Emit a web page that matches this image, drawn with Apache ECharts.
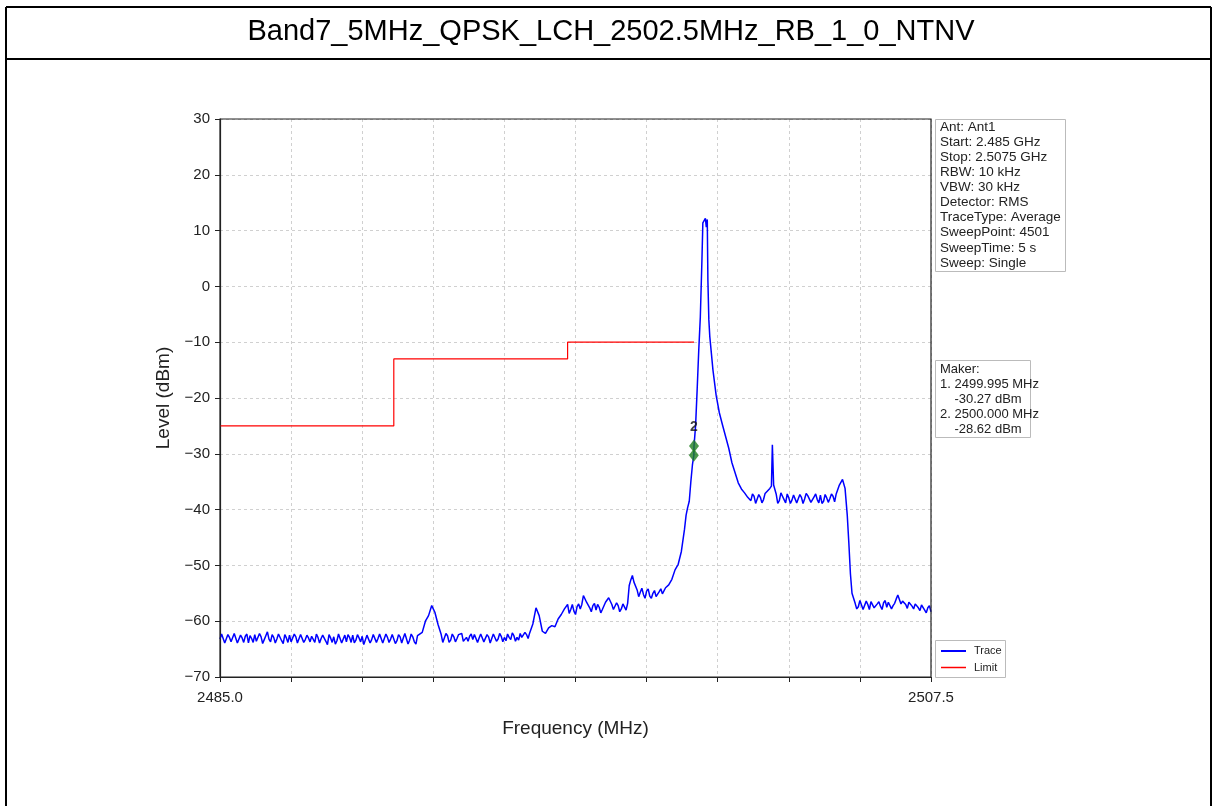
<!DOCTYPE html>
<html>
<head>
<meta charset="utf-8">
<script src="https://cdn.jsdelivr.net/npm/echarts@6/dist/echarts.min.js"></script>
<style>html,body{margin:0;padding:0;background:#fff;}#c{width:1215px;height:806px;}</style>
</head>
<body>
<div id="c"></div>
<script>
var chartTitle = 'Band7_5MHz_QPSK_LCH_2502.5MHz_RB_1_0_NTNV';
var freqStart = 2485.0, freqStop = 2507.5, freqTickStep = 2.25;
var levelMin = -70, levelMax = 30, levelStep = 10;

// Trace [MHz, dBm]
var traceLowBand = [
[2485.0,-63.2],[2485.1,-62.6],[2485.2,-63.8],[2485.3,-62.9],[2485.4,-63.4],[2485.5,-62.3],[2485.6,-63.6],[2485.7,-63.0],[2485.8,-62.7],[2485.9,-63.9],
[2486.0,-63.1],[2486.1,-62.4],[2486.2,-63.5],[2486.3,-62.8],[2486.4,-63.3],[2486.5,-61.9],[2486.6,-63.7],[2486.7,-62.9],[2486.8,-63.2],[2486.9,-62.6],
[2487.0,-64.0],[2487.1,-63.0],[2487.2,-62.5],[2487.3,-63.4],[2487.4,-62.8],[2487.5,-63.6],[2487.6,-62.2],[2487.7,-63.3],[2487.8,-63.0],[2487.9,-62.7],
[2488.0,-63.8],[2488.1,-62.9],[2488.2,-63.1],[2488.3,-62.4],[2488.4,-64.2],[2488.5,-63.0],[2488.6,-62.8],[2488.7,-63.5],[2488.8,-62.6],[2488.9,-63.2],
[2489.0,-63.7],[2489.1,-62.9],[2489.2,-62.5],[2489.3,-63.4],[2489.4,-63.0],[2489.5,-62.7],[2489.6,-63.9],[2489.7,-62.8],[2489.8,-63.3],[2489.9,-62.6],
[2490.0,-63.1],[2490.1,-62.4],[2490.2,-63.6],[2490.3,-62.9],[2490.4,-63.2],[2490.5,-62.7],[2490.6,-63.5],[2490.7,-62.8],[2490.8,-63.0],[2490.9,-62.5],
[2491.0,-63.4],[2491.1,-62.8],[2491.2,-64.1],[2491.3,-62.9],[2491.4,-62.0],[2491.5,-60.0],[2491.6,-59.0],[2491.7,-57.2],[2491.8,-58.4],[2491.9,-60.6],
[2492.0,-62.4],[2492.1,-63.0],[2492.2,-62.6],[2492.3,-63.4],[2492.4,-62.8],[2492.5,-63.1],[2492.6,-62.5],[2492.7,-63.6],[2492.8,-62.9],[2492.9,-62.7],
[2493.0,-63.3],[2493.1,-62.6],[2493.2,-63.0],[2493.3,-62.4],[2493.4,-63.5],[2493.5,-62.8],[2493.6,-63.1],[2493.7,-62.5],[2493.8,-63.2],[2493.9,-62.7],
[2494.0,-62.9],[2494.1,-62.3],[2494.2,-63.3],[2494.3,-62.6],[2494.4,-62.9],[2494.5,-62.2],[2494.6,-63.0],[2494.7,-62.4],[2494.8,-62.1],[2494.9,-60.5],
[2495.0,-57.6],[2495.1,-59.0],[2495.2,-61.8],[2495.3,-62.2],[2495.4,-61.2],[2495.5,-60.8],[2495.6,-61.0],[2495.7,-59.6],[2495.8,-58.8],[2495.9,-57.8],
[2496.0,-57.0],[2496.1,-57.9],[2496.2,-58.2],[2496.3,-57.4],[2496.4,-57.8],[2496.5,-55.4],[2496.6,-56.6],[2496.7,-57.6],[2496.8,-57.2],[2496.9,-58.0],
[2497.0,-57.5],[2497.1,-57.9],[2497.2,-56.6],[2497.3,-55.8],[2497.4,-57.0],[2497.5,-57.6],[2497.6,-57.2],[2497.7,-57.8],[2497.8,-57.1],[2497.9,-56.8],
[2497.95,-53.6],[2498.0,-52.6],[2498.05,-51.8],[2498.1,-53.0],[2498.2,-54.4],[2498.3,-54.8],[2498.4,-55.2],[2498.5,-54.6],[2498.6,-55.5],[2498.7,-55.0],
[2498.8,-55.6],[2498.9,-54.7],[2499.0,-55.1],[2499.1,-54.0],[2499.2,-53.5],[2499.3,-52.5],[2499.4,-50.8],[2499.5,-49.8],[2499.6,-47.5],[2499.7,-43.5],
[2499.75,-41.0],[2499.8,-39.6],[2499.85,-38.5],[2499.9,-35.0],[2499.95,-32.0]
];
// extra noise samples between the ones above
var traceLowBandFill = [
[2485.05,-62.3],[2485.15,-63.9],[2485.25,-62.4],[2485.35,-63.7],[2485.45,-62.2],[2485.55,-63.9],[2485.65,-62.5],[2485.75,-63.8],[2485.85,-62.3],[2485.95,-62.6],
[2486.05,-63.8],[2486.15,-63.6],[2486.25,-62.2],[2486.35,-64.0],[2486.45,-62.6],[2486.55,-63.2],[2486.65,-62.4],[2486.75,-63.9],[2486.85,-62.3],[2486.95,-63.5],
[2487.05,-62.4],[2487.15,-63.8],[2487.25,-63.7],[2487.35,-62.3],[2487.45,-63.9],[2487.55,-62.4],[2487.65,-63.8],[2487.75,-62.5],[2487.85,-63.7],[2487.95,-62.4],
[2488.05,-62.3],[2488.15,-63.9],[2488.25,-62.5],[2488.35,-63.6],[2488.45,-62.4],[2488.55,-63.8],[2488.65,-64.1],[2488.75,-62.3],[2488.85,-63.9],[2488.95,-62.5],
[2489.05,-62.4],[2489.15,-63.8],[2489.25,-63.9],[2489.35,-62.4],[2489.45,-63.7],[2489.55,-64.2],[2489.65,-62.5],[2489.75,-63.9],[2489.85,-62.4],[2489.95,-63.8],
[2490.05,-62.3],[2490.15,-63.9],[2490.25,-62.3],[2490.35,-63.8],[2490.45,-62.4],[2490.55,-64.0],[2490.65,-62.4],[2490.75,-63.9],[2490.85,-62.2],[2490.95,-64.1],
[2491.05,-62.3],[2491.15,-63.7],[2491.25,-62.6],
[2492.05,-63.8],[2492.15,-62.2],[2492.25,-63.8],[2492.35,-62.3],[2492.45,-63.7],[2492.55,-62.4],[2492.65,-62.2],[2492.75,-63.9],[2492.85,-63.6],[2492.95,-62.3],
[2493.05,-62.4],[2493.15,-63.8],[2493.25,-62.3],[2493.35,-63.7],[2493.45,-62.4],[2493.55,-63.9],[2493.65,-62.3],[2493.75,-63.6],[2493.85,-62.2],[2493.95,-63.7],
[2494.05,-63.5],[2494.15,-62.9],[2494.25,-62.1],[2494.35,-63.6],[2494.45,-63.4],[2494.55,-62.9],[2494.65,-62.0],[2494.75,-63.1],
[2496.05,-58.6],[2496.15,-57.0],[2496.25,-58.8],[2496.35,-56.9],[2496.45,-57.0],[2496.75,-58.3],[2496.85,-56.8],[2496.95,-57.0],[2497.05,-58.5],
[2497.45,-57.9],[2497.55,-56.7],[2497.65,-58.3],[2497.75,-56.9],[2497.85,-58.0],
[2498.25,-55.6],[2498.35,-54.1],[2498.45,-55.9],[2498.55,-54.2],[2498.65,-55.9],[2498.75,-54.5],[2498.85,-55.9],[2498.95,-54.2]
];
var traceCarrier = [
[2499.995,-30.27],[2500.0,-28.62],[2500.05,-25.0],[2500.1,-18.5],[2500.15,-11.5],[2500.2,-5.5],[2500.25,4.5],[2500.28,11.4],[2500.32,11.8],[2500.36,12.2],
[2500.39,10.6],[2500.42,12.0],[2500.44,1.0],[2500.47,-6.0],[2500.5,-9.0],[2500.55,-12.0],[2500.6,-15.0],[2500.7,-19.5],[2500.8,-22.6],[2500.9,-24.8],
[2501.0,-26.9],[2501.1,-29.0],[2501.2,-31.6],[2501.3,-33.4],[2501.4,-35.2],[2501.5,-36.3],[2501.6,-37.0],[2501.7,-37.8]
];
var traceHighBand = [
[2501.8,-38.4],[2501.9,-37.6],[2502.0,-38.6],[2502.1,-37.8],[2502.2,-38.2],[2502.3,-37.4],[2502.4,-36.2],[2502.45,-35.8],[2502.48,-28.4],[2502.52,-35.6],
[2502.6,-37.2],[2502.7,-38.4],[2502.8,-37.6],[2502.9,-38.8],[2503.0,-37.9],[2503.1,-38.3],[2503.2,-37.3],[2503.3,-38.6],[2503.4,-37.8],[2503.5,-38.1],
[2503.6,-37.5],[2503.7,-38.7],[2503.8,-37.7],[2503.9,-38.2],[2504.0,-37.4],[2504.1,-38.5],[2504.2,-37.9],[2504.3,-38.0],[2504.4,-37.6],[2504.5,-37.2],
[2504.6,-35.6],[2504.7,-34.6],[2504.78,-36.2],[2504.85,-41.0],[2504.9,-46.0],[2504.95,-51.5],[2505.0,-55.0],[2505.1,-56.8],[2505.2,-57.4],[2505.3,-56.6],
[2505.4,-57.8],[2505.5,-57.0],[2505.6,-56.5],[2505.7,-57.6],[2505.8,-56.9],[2505.9,-57.3],[2506.0,-56.7],[2506.1,-57.5],[2506.2,-56.8],[2506.3,-57.2],
[2506.4,-56.0],[2506.5,-55.6],[2506.6,-56.4],[2506.7,-57.0],[2506.8,-56.6],[2506.9,-57.3],[2507.0,-56.9],[2507.1,-57.6],[2507.2,-57.1],[2507.3,-58.0],
[2507.4,-57.6],[2507.5,-58.3]
];
var traceHighBandFill = [
[2501.85,-37.2],[2501.95,-38.9],[2502.05,-37.3],[2502.15,-38.8],[2502.25,-37.1],
[2502.65,-38.9],[2502.75,-37.0],[2502.85,-38.2],[2502.95,-37.2],[2503.05,-38.9],[2503.15,-37.4],[2503.25,-38.8],[2503.35,-37.3],[2503.45,-38.9],[2503.55,-37.1],
[2503.65,-37.6],[2503.75,-38.9],[2503.85,-37.2],[2503.95,-38.8],[2504.05,-38.9],[2504.15,-37.3],[2504.25,-38.7],[2504.35,-37.2],[2504.45,-38.6],
[2505.15,-57.8],[2505.25,-56.3],[2505.35,-57.9],[2505.45,-56.4],[2505.55,-57.9],[2505.65,-56.4],[2505.75,-57.8],[2505.85,-56.5],[2505.95,-57.9],[2506.05,-56.3],
[2506.15,-56.6],[2506.25,-57.8],[2506.35,-56.8],[2506.45,-55.3],[2506.55,-56.9],[2506.65,-56.3],[2506.75,-57.7],[2506.85,-56.4],[2506.95,-57.8],[2507.05,-56.6],
[2507.15,-58.1],[2507.25,-56.9],[2507.35,-58.5],[2507.45,-57.2]
];

var limitFreq = [2485.0, 2490.5, 2490.5, 2496.0, 2496.0, 2500.0];
var limitLevel = [-25, -25, -13, -13, -10, -10];

var markerFreq = [2499.995, 2500.000];
var markerLevel = [-30.27, -28.62];
var markerNames = ['1', '2'];

var infoLines = ['Ant: Ant1','Start: 2.485 GHz','Stop: 2.5075 GHz','RBW: 10 kHz','VBW: 30 kHz','Detector: RMS','TraceType: Average','SweepPoint: 4501','SweepTime: 5 s','Sweep: Single'];
var makerLines = ['Maker:','1. 2499.995 MHz','    -30.27 dBm','2. 2500.000 MHz','    -28.62 dBm'];
var legendNames = ['Trace','Limit'];

var FONT = '"Liberation Sans", Arial, sans-serif';
function rel(f){ return +(f - freqStart).toFixed(6); }
var traceAll = traceLowBand.concat(traceLowBandFill, traceCarrier, traceHighBand, traceHighBandFill)
  .slice().sort(function(a,b){ return a[0]-b[0]; })
  .map(function(p){ return [rel(p[0]), p[1]]; });
var limitData = limitFreq.map(function(f,i){ return [rel(f), limitLevel[i]]; });
var markerData = markerFreq.map(function(f,i){ return {value:[rel(f), markerLevel[i]], name: markerNames[i],
  label:{show: i===1, formatter: markerNames[i], position:'top', distance:5, fontFamily:FONT, fontWeight:'bold', fontSize:14, color:'#111'}}; });

var graphics = [];
// outer frame
graphics.push({type:'line', shape:{x1:6,y1:7,x2:6,y2:806}, style:{stroke:'#000',lineWidth:2}});
graphics.push({type:'line', shape:{x1:1211,y1:7,x2:1211,y2:806}, style:{stroke:'#000',lineWidth:2}});
graphics.push({type:'line', shape:{x1:6,y1:7,x2:1211,y2:7}, style:{stroke:'#000',lineWidth:2}});
graphics.push({type:'line', shape:{x1:6,y1:59,x2:1211,y2:59}, style:{stroke:'#000',lineWidth:2}});
graphics.push({type:'text', x:611, y:32, style:{text:chartTitle, font:'29px '+FONT, fill:'#000', textAlign:'center', textVerticalAlign:'middle'}});
// plot frame
graphics.push({type:'rect', z:10, shape:{x:220,y:119,width:711,height:558}, style:{fill:'none', stroke:'#222', lineWidth:1.2}});
// info box
graphics.push({type:'rect', shape:{x:935.5,y:119.5,width:130,height:152}, style:{fill:'#fff', stroke:'#bbb', lineWidth:1}});
infoLines.forEach(function(t,i){
  graphics.push({type:'text', x:940, y:127+i*15.1, style:{text:t, font:'13.5px '+FONT, fill:'#222', textVerticalAlign:'middle'}});
});
// maker box
graphics.push({type:'rect', shape:{x:935.5,y:360.5,width:95,height:77}, style:{fill:'#fff', stroke:'#bbb', lineWidth:1}});
makerLines.forEach(function(t,i){
  graphics.push({type:'text', x:940, y:369+i*15, style:{text:t, font:'13px '+FONT, fill:'#222', textVerticalAlign:'middle'}});
});
// legend box
graphics.push({type:'rect', shape:{x:935.5,y:640.5,width:70,height:37}, style:{fill:'#fff', stroke:'#bbb', lineWidth:1}});
var legendColors = ['#0000ff','#ff0000'];
legendNames.forEach(function(t,i){
  var y = 651 + i*16.5;
  graphics.push({type:'line', shape:{x1:941,y1:y,x2:966,y2:y}, style:{stroke:legendColors[i], lineWidth:i===0?2:1.5}});
  graphics.push({type:'text', x:974, y:y, style:{text:t, font:'11px '+FONT, fill:'#222', textVerticalAlign:'middle'}});
});

var chart = echarts.init(document.getElementById('c'), null, {renderer:'canvas'});
chart.setOption({
  animation:false,
  backgroundColor:'#fff',
  grid:{left:220, right:284, top:119, bottom:129, show:false},
  xAxis:{
    type:'value', min:0, max:rel(freqStop), interval:freqTickStep,
    name:'Frequency (MHz)', nameLocation:'middle', nameGap:42,
    nameTextStyle:{fontFamily:FONT, fontSize:19, color:'#222'},
    axisLine:{show:true, onZero:false, lineStyle:{color:'#222', width:1.2}},
    axisTick:{show:true, inside:false, length:5, lineStyle:{color:'#222', width:1}},
    axisLabel:{margin:13, fontFamily:FONT, fontSize:15, color:'#222',
      formatter:function(v){ return (Math.abs(v)<1e-6 || Math.abs(v-rel(freqStop))<1e-6) ? (freqStart+v).toFixed(1) : ''; }},
    splitLine:{show:true, lineStyle:{color:'#d0d0d0', type:[3,3], width:1}}
  },
  yAxis:{
    type:'value', min:levelMin, max:levelMax, interval:levelStep,
    name:'Level (dBm)', nameLocation:'middle', nameGap:46,
    nameTextStyle:{fontFamily:FONT, fontSize:19, color:'#222'},
    axisLine:{show:true, onZero:false, lineStyle:{color:'#222', width:1.2}},
    axisTick:{show:true, inside:false, length:5, lineStyle:{color:'#222', width:1}},
    axisLabel:{margin:10, fontFamily:FONT, fontSize:15, color:'#222',
      formatter:function(v){ return String(v).replace('-', '\u2212'); }},
    splitLine:{show:true, lineStyle:{color:'#d0d0d0', type:[3,3], width:1}}
  },
  series:[
    {name:'Limit', type:'line', data:limitData, showSymbol:false, lineStyle:{color:'#ff0000', width:1.2}, itemStyle:{color:'#ff0000'}, z:3},
    {name:'Trace', type:'line', data:traceAll, showSymbol:false, sampling:'none', lineStyle:{color:'#0000ff', width:1.5}, itemStyle:{color:'#0000ff'}, z:4},
    {name:'Markers', type:'scatter', data:markerData, symbol:'diamond', symbolSize:[10,13], itemStyle:{color:'#1f7f1f'}, z:5}
  ],
  graphic:graphics
});
</script>
</body>
</html>
